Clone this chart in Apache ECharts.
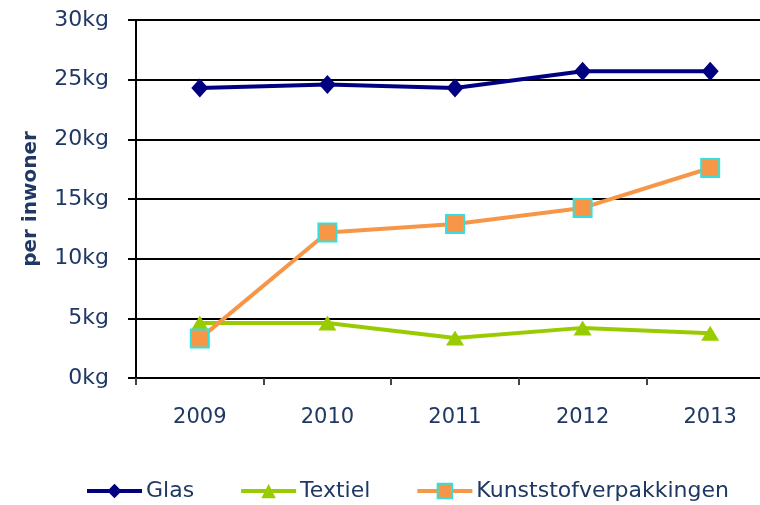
<!DOCTYPE html>
<html>
<head>
<meta charset="utf-8">
<script src="https://cdn.jsdelivr.net/npm/echarts@6/dist/echarts.min.js"></script>
</head>
<body style="margin:0;background:#fff">
<div id="chart" style="width:760px;height:505px"></div>
<script type="text/javascript">
var years = ['2009', '2010', '2011', '2012', '2013'];
var glas = [24.3, 24.6, 24.3, 25.7, 25.7];
var textiel = [4.6, 4.6, 3.35, 4.2, 3.75];
var kunststof = [3.3, 12.2, 12.9, 14.25, 17.6];

var textColor = '#1F3864';
var font = 'DejaVu Sans';

var chart = echarts.init(document.getElementById('chart'));
chart.setOption({
    backgroundColor: '#fff',
    animation: false,
    grid: { left: 136, width: 638, top: 20, bottom: 127, containLabel: false, outerBoundsMode: 'none' },
    legend: {
        top: 480,
        left: 85,
        padding: 0,
        itemGap: 45,
        itemWidth: 55,
        itemHeight: 18,
        lineStyle: { width: 4 },
        textStyle: { color: textColor, fontFamily: font, fontSize: 22, padding: [0, 0, 0, -1] },
        data: ['Glas', 'Textiel', 'Kunststofverpakkingen']
    },
    xAxis: {
        type: 'category',
        data: years,
        boundaryGap: true,
        axisLine: { lineStyle: { color: '#000', width: 2 } },
        axisTick: { show: true, length: 7, lineStyle: { color: '#444', width: 2 } },
        axisLabel: { color: textColor, fontFamily: font, fontSize: 21, margin: 29 }
    },
    yAxis: {
        type: 'value',
        min: 0,
        max: 30,
        interval: 5,
        name: 'per inwoner',
        nameLocation: 'middle',
        nameGap: 95,
        nameRotate: 90,
        nameTextStyle: { color: textColor, fontFamily: font, fontSize: 20, fontWeight: 'bold' },
        axisLine: { show: true, lineStyle: { color: '#000', width: 2 } },
        axisTick: { show: true, length: 8, lineStyle: { color: '#000', width: 2 } },
        splitLine: { lineStyle: { color: '#000', width: 2 } },
        axisLabel: {
            color: textColor, fontFamily: font, fontSize: 22, margin: 27,
            formatter: '{value}kg'
        }
    },
    series: [
        {
            name: 'Glas',
            type: 'line',
            data: glas,
            symbol: 'diamond',
            symbolSize: [17, 19],
            lineStyle: { color: '#000080', width: 4 },
            itemStyle: { color: '#000080' }
        },
        {
            name: 'Textiel',
            type: 'line',
            data: textiel,
            symbol: 'triangle',
            symbolSize: [18, 15],
            lineStyle: { color: '#99CC00', width: 4 },
            itemStyle: { color: '#99CC00' }
        },
        {
            name: 'Kunststofverpakkingen',
            type: 'line',
            data: kunststof,
            symbol: 'rect',
            symbolSize: 18,
            lineStyle: { color: '#F79646', width: 4 },
            itemStyle: { color: '#F79646', borderColor: '#33E0E0', borderWidth: 2 }
        }
    ]
});
</script>
</body>
</html>
